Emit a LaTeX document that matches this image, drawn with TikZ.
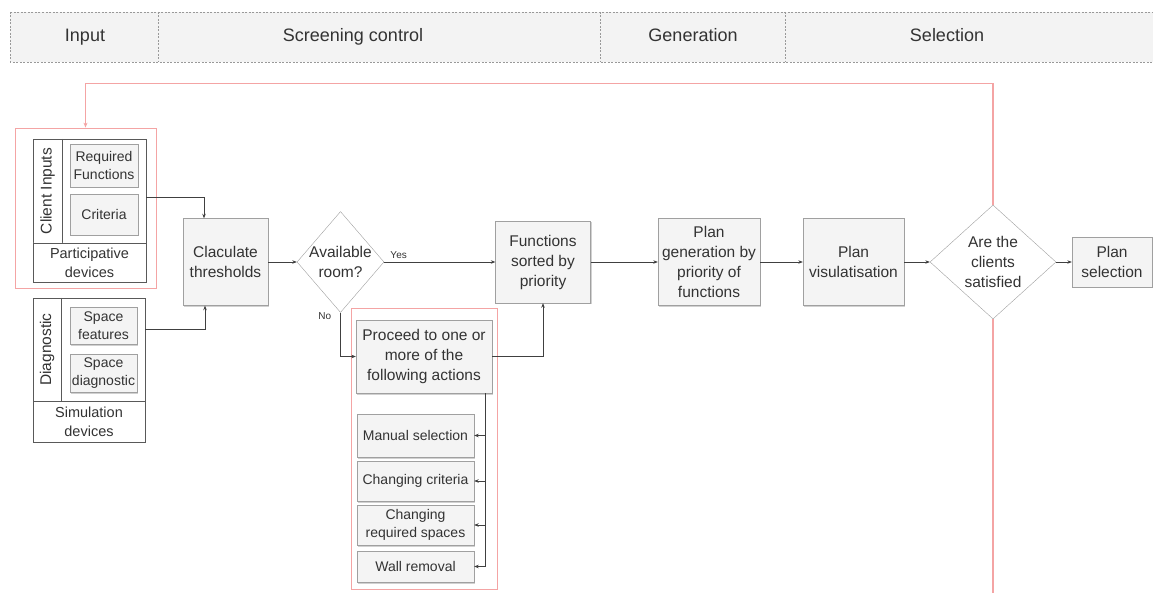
\documentclass[tikz,border=0pt]{standalone}
\usepackage{fontspec}
\setmainfont{Liberation Sans}
\usetikzlibrary{shapes.geometric,arrows.meta,shadows}
\definecolor{boxfill}{HTML}{F4F4F4}
\definecolor{boxline}{HTML}{A0A0A0}
\definecolor{txt}{HTML}{333333}
\definecolor{fbred}{HTML}{F4A4A4}
\definecolor{hdrfill}{HTML}{F3F3F3}
\tikzset{%
    sz/.style 2 args={minimum width=#1,minimum height=#2},
    box/.style={draw=boxline,fill=boxfill,text=txt,align=center,inner sep=0pt,
        font=\fontsize{15.5}{20}\selectfont,
        drop shadow={shadow xshift=1pt,shadow yshift=-1.5pt,fill=black!30,opacity=0.6}},
    sbox/.style={box,font=\fontsize{14}{18}\selectfont},
    dec/.style={diamond,draw=boxline,fill=white,text=txt,align=center,inner sep=-14pt,
        font=\fontsize{15.5}{20}\selectfont},
    frame/.style={draw=black!65,fill=white,line width=0.8pt},
    grp/.style={draw=fbred,line width=0.8pt},
    backline/.style={draw=fbred,line width=1.5pt},
    lab/.style={text=txt,align=center,inner sep=0pt,font=\fontsize{14.5}{19}\selectfont}
}

\begin{document}
\begin{tikzpicture}[
                x=1pt,y=-1pt,
                arr/.style={draw=black!75,line width=0.6pt,-{Stealth[length=4.5pt,width=3.5pt]}},
                hdrline/.style={draw=black!40,line width=0.6pt,dash pattern=on 2pt off 1.5pt},
                hdr/.style={text=txt,text height=13pt,text depth=4pt,font=\fontsize{18}{22}\selectfont}
            ]
            \useasboundingbox (0,0) rectangle (1153,593);
            \fill[hdrfill] (10,12) rectangle (1160,62);
            \draw[hdrline] (10,12) rectangle (1160,62);
            \draw[hdrline] (158,12) -- (158,62);
            \draw[hdrline] (600,12) -- (600,62);
            \draw[hdrline] (785,12) -- (785,62);
            \node[hdr] (hin) at (85,37) {Input};
            \node[hdr] (hscr) at (353,37) {Screening control};
            \node[hdr] (hgen) at (693,37) {Generation};
            \node[hdr] (hsel) at (947,37) {Selection};

            \node[grp,sz={141}{160}] (red1) at (85.5,208) {};
            \node[grp,sz={146}{281}] (actgrp) at (424,448.5) {};

            \node[frame,sz={113}{143}] (cli) at (89.5,210.5) {};
            \draw[frame] (62,139) -- (62,243);
            \draw[frame] (33,243) -- (146,243);
            \node[lab,rotate=90,font=\fontsize{15.5}{19}\selectfont] (clitxt) at (47.5,191) {Client Inputs};
            \node[lab] (clidev) at (89.5,262.5) {Participative\\devices};
            \node[sbox,sz={68}{43}] (rf) at (104,165.5) {Required\\Functions};
            \node[sbox,sz={68}{41}] (cr) at (104,214.5) {Criteria};

            \node[frame,sz={112}{144}] (diag) at (89,370) {};
            \draw[frame] (61,298) -- (61,401);
            \draw[frame] (33,401) -- (145,401);
            \node[lab,rotate=90,font=\fontsize{15.5}{19}\selectfont] (diagtxt) at (47,349.5) {Diagnostic};
            \node[lab] (diagdev) at (89,421.5) {Simulation\\devices};
            \node[sbox,sz={67}{37}] (sf) at (103.5,325.5) {Space\\features};
            \node[sbox,sz={67}{38}] (sd) at (103.5,373) {Space\\diagnostic};

            \node[box,sz={85}{87}] (calc) at (225.5,262) {Claculate\\thresholds};
            \node[dec,sz={87}{101}] (room) at (340.5,262) {Available\\room?};
            \node[box,sz={95}{82}] (sort) at (543,262) {Functions\\sorted by\\priority};
            \node[box,sz={136}{73}] (act) at (424,356.5) {Proceed to one or\\more of the\\following actions};
            \node[sbox,sz={117}{43}] (man) at (415.5,435.5) {Manual selection};
            \node[sbox,sz={117}{40}] (chcr) at (415.5,481) {Changing criteria};
            \node[sbox,sz={117}{40}] (chsp) at (415.5,525) {Changing\\required spaces};
            \node[sbox,sz={117}{31}] (wall) at (415.5,566.5) {Wall removal};
            \node[box,sz={102}{87}] (gen) at (709,262) {Plan\\generation by\\priority of\\functions};
            \node[box,sz={101}{87}] (vis) at (853.5,262) {Plan\\visulatisation};
            \node[dec,sz={126}{114}] (sat) at (993,262) {Are the\\clients\\satisfied};
            \node[box,sz={80}{50}] (sel) at (1112,262) {Plan\\selection};
            \coordinate (fbend) at (993,600);

            \draw[arr] ([yshift=13.5pt]cli.east) -| ([xshift=-21.5pt]calc.north);
            \draw[arr] ([yshift=41pt]diag.east) -| ([xshift=-20.5pt]calc.south);
            \draw[arr] (calc.east) -- (room.west);
            \draw[arr] (room.east) -- node[lab,pos=0.13,above=3pt,font=\fontsize{10}{12}\selectfont]{Yes} (sort.west);
            \draw[arr] (room.south) |- node[lab,at start,left=9pt,yshift=-3pt,font=\fontsize{10}{12}\selectfont]{No} (act.west);
            \draw[arr] (act.east) -| (sort.south);
            \draw[arr] ([xshift=61pt]act.south) |- (man.east);
            \draw[arr] ([xshift=61pt]act.south) |- (chcr.east);
            \draw[arr] ([xshift=61pt]act.south) |- (chsp.east);
            \draw[arr] ([xshift=61pt]act.south) |- (wall.east);
            \draw[arr] (sort.east) -- (gen.west);
            \draw[arr] (gen.east) -- (vis.west);
            \draw[arr] (vis.east) -- (sat.west);
            \draw[arr] (sat.east) -- (sel.west);
            \draw[backline,-{Stealth[length=5pt,width=4pt]}] (sat.north) |- ([yshift=44pt]red1.north) -- (red1.north);
            \draw[backline] (sat.south) -- (fbend);
        \end{tikzpicture}
\end{document}
